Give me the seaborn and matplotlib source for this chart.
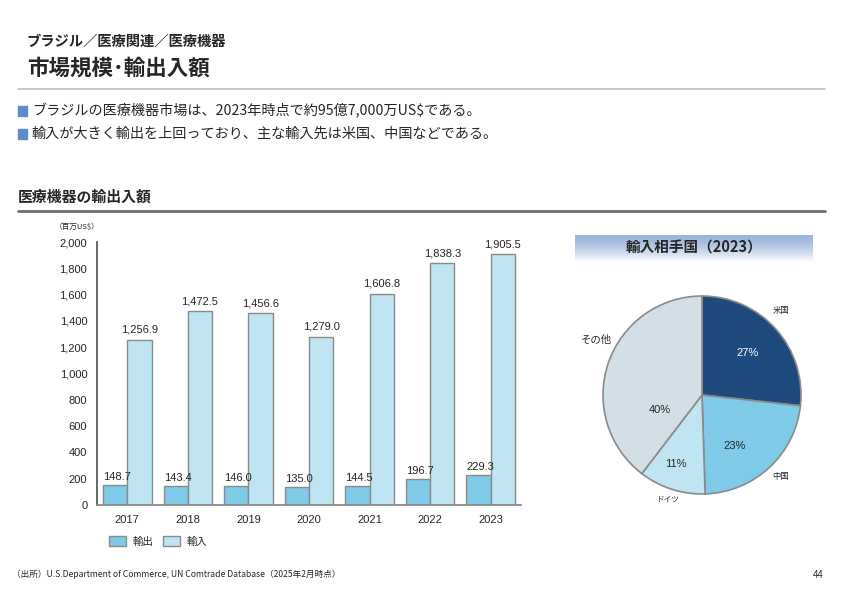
import numpy as np
import pandas as pd
import matplotlib
matplotlib.use("Agg")
import matplotlib.pyplot as plt
import seaborn as sns

# データ
years = ["2017", "2018", "2019", "2020", "2021", "2022", "2023"]
exports = [148.7, 143.4, 146.0, 135.0, 144.5, 196.7, 229.3]
imports = [1256.9, 1472.5, 1456.6, 1279.0, 1606.8, 1838.3, 1905.5]
y_ticks = [0, 200, 400, 600, 800, 1000, 1200, 1400, 1600, 1800, 2000]

pie_labels = ["米国", "中国", "ドイツ", "その他"]
pie_values = [27, 23, 11, 40]

sns.set_theme(style="white")
plt.rcParams['font.family'] = ['Noto Sans CJK JP', 'DejaVu Sans']
NUM_FONT = ['Liberation Sans', 'Noto Sans CJK JP']

c_exp = '#7ECAE7'
c_imp = '#BFE4F2'
c_edge = '#8A8A8A'

fig = plt.figure(figsize=(8.42, 5.95), dpi=100)
W, H = 842, 595


def fx(px):
    return px / W


def fy(py):
    return 1 - py / H


# ---- ヘッダー ----
fig.text(fx(27), fy(42), "ブラジル／医療関連／医療機器", fontsize=10.3, fontweight='bold', va='center')
fig.text(fx(27), fy(68), "市場規模･輸出入額", fontsize=15.5, fontweight='bold', va='center')
fig.add_artist(plt.Line2D([fx(18), fx(825)], [fy(89), fy(89)], color='#BDBDBD', lw=1.2))

for yy, txt in [(111, "ブラジルの医療機器市場は、2023年時点で約95億7,000万US$である。"),
                (134, "輸入が大きく輸出を上回っており、主な輸入先は米国、中国などである。")]:
    fig.add_artist(plt.Rectangle((fx(18), fy(yy + 5)), 9 / W, 10 / H, color='#5B8BC9'))
    fig.text(fx(32), fy(yy), txt, fontsize=10.2, va='center')

fig.text(fx(18), fy(197), "医療機器の輸出入額", fontsize=10.7, fontweight='bold', va='center')
fig.add_artist(plt.Line2D([fx(18), fx(825)], [fy(211), fy(211)], color='#6E6E6E', lw=2))

# ---- 棒グラフ ----
ax = fig.add_axes([fx(97), fy(505), (521 - 97) / W, (505 - 242) / H])
df = pd.DataFrame({
    "年": years * 2,
    "種類": ["輸出"] * len(years) + ["輸入"] * len(years),
    "金額": exports + imports,
})
sns.barplot(data=df, x="年", y="金額", hue="種類", palette=[c_exp, c_imp],
            edgecolor=c_edge, linewidth=1, saturation=1, width=0.8, ax=ax)
ax.set_ylim(0, 2000)
ax.set_xlim(-0.5, 6.5)
ax.set_yticks(y_ticks)
ax.set_yticklabels([f"{v:,}" for v in y_ticks], fontsize=8, family=NUM_FONT)
ax.set_xticks(range(len(years)))
ax.set_xticklabels(years, fontsize=8, family=NUM_FONT)
ax.tick_params(axis='y', length=4, width=1, color='#555555', direction='out', pad=3)
ax.tick_params(axis='x', length=0, pad=7)
ax.set_xlabel("")
ax.set_ylabel("")
for s in ['top', 'right']:
    ax.spines[s].set_visible(False)
ax.spines['left'].set_color('#555555')
ax.spines['bottom'].set_color('#888888')

for i, (e, m) in enumerate(zip(exports, imports)):
    ax.text(i - 0.4, e + 25, f"{e:,.1f}", fontsize=8, family=NUM_FONT, ha='left', va='bottom')
    ax.text(i + 0.2, m + 40, f"{m:,.1f}", fontsize=8, family=NUM_FONT, ha='center', va='bottom')

fig.text(fx(55), fy(227), "（百万US$）", fontsize=5.5, va='center')

handles, labels = ax.get_legend_handles_labels()
ax.legend(handles, labels, loc='upper left', bbox_to_anchor=(fx(100), fy(527)),
          bbox_transform=fig.transFigure, ncol=2, frameon=False, fontsize=7.5,
          handlelength=1.6, handleheight=1.0, columnspacing=1.0, handletextpad=0.6)

# ---- 円グラフ見出し ----
bax = fig.add_axes([fx(575), fy(262), (812 - 575) / W, 27 / H])
grad = np.linspace(0, 1, 100).reshape(-1, 1)
top = np.array([0.60, 0.71, 0.86])
bot = np.array([1.0, 1.0, 1.0])
t = grad[:, :, None] ** 1.5
img = top[None, None, :] * (1 - t) + bot[None, None, :] * t
bax.imshow(img, aspect='auto', extent=[0, 1, 0, 1])
bax.set_axis_off()
bax.text(0.5, 0.55, "輸入相手国（2023）", fontsize=10.5, fontweight='bold', ha='center', va='center')

# ---- 円グラフ ----
pax = fig.add_axes([fx(603), fy(494), 198 / W, 198 / H])
pie_colors = ['#1F4A7E', '#7ECAE7', '#BFE4F2', '#D3DFE6']
wedges, _ = pax.pie(pie_values, colors=pie_colors, startangle=90, counterclock=False,
                    wedgeprops=dict(edgecolor='#8A8A8A', linewidth=1.2))
for w in wedges:
    w.set_clip_on(False)
pax.set_xlim(-1, 1)
pax.set_ylim(-1, 1)
pax.set_aspect('equal')

fig.text(fx(748), fy(353), "27%", fontsize=8, color='white', ha='center', va='center', family=NUM_FONT)
fig.text(fx(735), fy(446), "23%", fontsize=8, ha='center', va='center', family=NUM_FONT)
fig.text(fx(676), fy(464), "11%", fontsize=8, ha='center', va='center', family=NUM_FONT)
fig.text(fx(660), fy(410), "40%", fontsize=8, ha='center', va='center', family=NUM_FONT)
fig.text(fx(781), fy(310), "米国", fontsize=6, ha='center', va='center')
fig.text(fx(781), fy(477), "中国", fontsize=6, ha='center', va='center')
fig.text(fx(668), fy(500), "ドイツ", fontsize=5.5, ha='center', va='center')
fig.text(fx(596), fy(340), "その他", fontsize=7.5, ha='center', va='center')

# ---- フッター ----
fig.text(fx(12), fy(574), "（出所）U.S.Department of Commerce, UN Comtrade Database（2025年2月時点）",
         fontsize=6.2, va='center')
fig.text(fx(824), fy(575), "44", fontsize=7, ha='right', va='center', family=NUM_FONT)

fig.savefig("out.png", dpi=100)
